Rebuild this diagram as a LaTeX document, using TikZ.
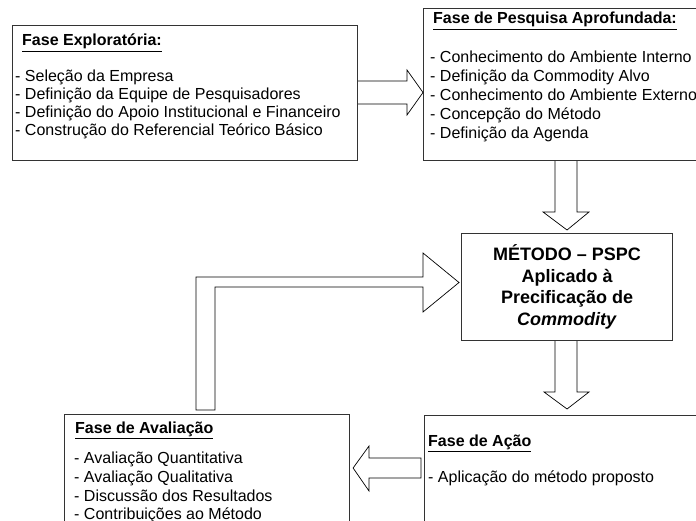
\documentclass[tikz,border=0pt]{standalone}
\usepackage{fontspec}
\setmainfont{Liberation Sans}
\usetikzlibrary{calc}
\begin{document}
\begin{tikzpicture}[x=1pt,y=-1pt,
  box/.style={draw=black!80, line width=1.1pt, rectangle, inner sep=0pt, anchor=north west},
  txt/.style={anchor=base west, inner sep=0pt, font=\fontsize{16pt}{18pt}\selectfont},
  ttl/.style={txt, font=\fontsize{16pt}{18pt}\selectfont\bfseries},
  blk/.style={draw=black, line width=0.7pt, fill=white, line join=miter}]
\useasboundingbox (0,0) rectangle (696,521);

% boxes
\node[box, minimum width=345pt, minimum height=135pt] (explo) at (12,25) {};
\node[box, minimum width=290pt, minimum height=152pt] (pesq) at (423,8) {};
\node[box, minimum width=211pt, minimum height=107pt, align=center,
      font=\fontsize{18pt}{21.5pt}\selectfont\bfseries] (metodo) at (461,233)
      {MÉTODO – PSPC\\Aplicado à\\Precificação de\\\textit{Commodity}};
\node[box, minimum width=290pt, minimum height=120pt] (acao) at (424,415) {};
\node[box, minimum width=285pt, minimum height=120pt] (aval) at (64,414) {};

% texts: Fase Exploratoria
\node[ttl] (e0) at (22,46) {\underline{Fase Exploratória:}};
\node[txt] (e1) at (15,82) {- Seleção da Empresa};
\node[txt] (e2) at (15,100) {- Definição da Equipe de Pesquisadores};
\node[txt] (e3) at (15,118) {- Definição do Apoio Institucional e Financeiro};
\node[txt] (e4) at (15,136) {- Construção do Referencial Teórico Básico};

% texts: Pesquisa Aprofundada
\node[ttl] (p0) at (433,24) {\underline{Fase de Pesquisa Aprofundada:}};
\node[txt] (p1) at (430,63) {- Conhecimento do Ambiente Interno};
\node[txt] (p2) at (430,82) {- Definição da Commodity Alvo};
\node[txt] (p3) at (430,101) {- Conhecimento do Ambiente Externo};
\node[txt] (p4) at (430,120) {- Concepção do Método};
\node[txt] (p5) at (430,139) {- Definição da Agenda};

% texts: Acao
\node[ttl] (a0) at (428,446) {\underline{Fase de Ação}};
\node[txt] (a1) at (428,482) {- Aplicação do método proposto};

% texts: Avaliacao
\node[ttl] (v0) at (75,433) {\underline{Fase de Avaliação}};
\node[txt] (v1) at (74,463) {- Avaliação Quantitativa};
\node[txt] (v2) at (74,482) {- Avaliação Qualitativa};
\node[txt] (v3) at (74,501) {- Discussão dos Resultados};
\node[txt] (v4) at (74,519.5) {- Contribuições ao Método};

% block arrow explo -> pesq
\draw[blk] (explo.east |- 0,81) -- (407,81) -- (407,70) -- (pesq.west |- 0,92.5)
  -- (407,115) -- (407,104) -- (explo.east |- 0,104);

% block arrow pesq -> metodo
\draw[blk] (555,0 |- pesq.south) -- (555,212) -- (543,212) -- ($(metodo.north)+(0,-3)$)
  -- (589,212) -- (577,212) -- (577,0 |- pesq.south);

% block arrow metodo -> acao
\draw[blk] (555,0 |- metodo.south) -- (555,392) -- (544,392) -- ($(metodo.south |- acao.north)+(0,-6)$)
  -- (589,392) -- (577,392) -- (577,0 |- metodo.south);

% block arrow acao -> aval
\draw[blk] (421,458) -- (369,458) -- (369,446) -- ($(aval.east |- 0,468)+(3,0)$)
  -- (369,491) -- (369,478) -- (421,478) -- cycle;

% elbow arrow aval -> metodo
\draw[blk] (196,410) -- (196,277) -- (423,277) -- (423,253) -- ($(metodo.west |- 0,282.5)+(-2,0)$)
  -- (423,312) -- (423,287) -- (215,287) -- (215,410) -- cycle;
\end{tikzpicture}
\end{document}
